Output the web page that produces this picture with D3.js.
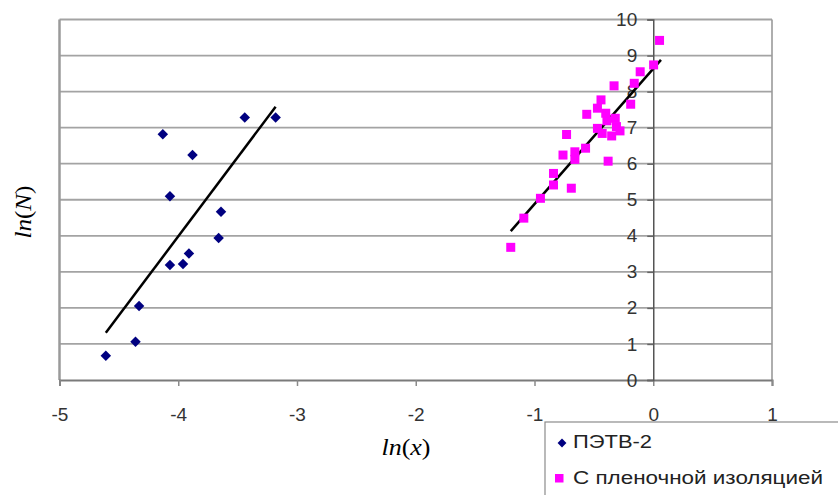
<!DOCTYPE html>
<html lang="en">
<head>
<meta charset="UTF-8">
<title>ln(N) vs ln(x)</title>
<script src="https://d3js.org/d3.v7.min.js"></script>
<style>
  body { margin: 0; background: #fff; }
  svg text { font-family: Arial, "Liberation Sans", sans-serif; }
</style>
</head>
<body>
<svg id="chart" width="838" height="495"></svg>
<script>
// ПЭТВ-2 (blue diamonds)
var petvX = [-3.44, -3.18, -4.13, -3.88, -4.07, -3.64, -3.66, -3.91, -4.07, -3.96, -4.33, -4.36, -4.61];
var petvY = [7.28, 7.28, 6.82, 6.24, 5.10, 4.67, 3.94, 3.51, 3.19, 3.22, 2.05, 1.06, 0.67];

// С пленочной изоляцией (magenta squares)
var filmX = [0.053, 0.003, -0.11, -0.16, -0.33, -0.19, -0.44, -0.47, -0.56, -0.40, -0.39, -0.32, -0.31, -0.28, -0.47,
             -0.43, -0.35, -0.73, -0.57, -0.66, -0.76, -0.66, -0.38, -0.84, -0.84, -0.69, -0.95, -1.09, -1.20];
var filmY = [9.42, 8.74, 8.55, 8.23, 8.16, 7.65, 7.77, 7.54, 7.37, 7.40, 7.19, 7.26, 7.03, 6.91, 6.98,
             6.84, 6.77, 6.81, 6.43, 6.33, 6.24, 6.12, 6.07, 5.73, 5.41, 5.32, 5.04, 4.49, 3.68];

// trend lines (end points)
var petvTrend = [[-4.61, 1.31], [-3.18, 7.58]];
var filmTrend = [[-1.20, 4.13], [0.065, 8.88]];

var xTicks = [-5, -4, -3, -2, -1, 0, 1];
var yTicks = [0, 1, 2, 3, 4, 5, 6, 7, 8, 9, 10];
var seriesNames = ["ПЭТВ-2", "С пленочной изоляцией"];

var svg = d3.select("#chart");

var x = d3.scaleLinear().domain([-5, 1]).range([59.5, 772]);
var y = d3.scaleLinear().domain([0, 10]).range([380, 19.5]);

// horizontal gridlines
svg.append("g")
  .selectAll("line")
  .data(yTicks.slice(1))
  .enter().append("line")
  .attr("x1", x(-5)).attr("x2", x(1))
  .attr("y1", function(d) { return y(d); })
  .attr("y2", function(d) { return y(d); })
  .attr("stroke", "#a3a3a3")
  .attr("stroke-width", 1.8);

// plot border (left, right)
svg.append("line").attr("x1", x(-5)).attr("x2", x(-5)).attr("y1", y(10)).attr("y2", y(0))
  .attr("stroke", "#9a9a9a").attr("stroke-width", 2.5);
svg.append("line").attr("x1", x(1)).attr("x2", x(1)).attr("y1", y(10)).attr("y2", y(0))
  .attr("stroke", "#9a9a9a").attr("stroke-width", 1.6);

// x axis at y = 0
var xAxis = d3.axisBottom(x).tickValues(xTicks).tickSize(6).tickFormat(d3.format("d"));
var gx = svg.append("g").attr("transform", "translate(0," + y(0) + ")").call(xAxis);
gx.select(".domain").attr("stroke", "#7a7a7a").attr("stroke-width", 2);
gx.selectAll(".tick line").attr("stroke", "#8a8a8a").attr("stroke-width", 1.5);
gx.selectAll(".tick text")
  .attr("dy", null).attr("y", 41)
  .attr("font-size", 19).attr("fill", "#333")
  .text(function(d) { return d < 0 ? "-" + Math.abs(d) : d; });

// y axis at x = 0
var yAxis = d3.axisLeft(y).tickValues(yTicks).tickSize(6).tickFormat(d3.format("d"));
var gy = svg.append("g").attr("transform", "translate(" + x(0) + ",0)").call(yAxis);
gy.select(".domain").attr("stroke", "#555").attr("stroke-width", 1.5);
gy.selectAll(".tick line").attr("stroke", "#666").attr("stroke-width", 1.5);
gy.selectAll(".tick text")
  .attr("x", -16)
  .attr("font-size", 19).attr("fill", "#333");

// trend lines
var line = d3.line().x(function(d) { return x(d[0]); }).y(function(d) { return y(d[1]); });
[petvTrend, filmTrend].forEach(function(t) {
  svg.append("path").attr("d", line(t))
    .attr("fill", "none").attr("stroke", "#000").attr("stroke-width", 2.5);
});

// film points (squares)
svg.append("g")
  .selectAll("rect")
  .data(filmX.map(function(v, i) { return [v, filmY[i]]; }))
  .enter().append("rect")
  .attr("x", function(d) { return x(d[0]) - 4.5; })
  .attr("y", function(d) { return y(d[1]) - 4.5; })
  .attr("width", 9).attr("height", 9)
  .attr("fill", "#ff00ff");

// petv points (diamonds)
var diamond = d3.symbol().type(d3.symbolDiamond2).size(70);
svg.append("g")
  .selectAll("path")
  .data(petvX.map(function(v, i) { return [v, petvY[i]]; }))
  .enter().append("path")
  .attr("d", diamond)
  .attr("transform", function(d) { return "translate(" + x(d[0]) + "," + y(d[1]) + ")"; })
  .attr("fill", "#000080");

// axis titles
svg.append("text")
  .attr("transform", "translate(31,212) rotate(-90)")
  .attr("text-anchor", "middle")
  .attr("textLength", 53).attr("lengthAdjust", "spacingAndGlyphs")
  .style("font-family", "'Liberation Serif', 'Times New Roman', serif")
  .attr("font-size", 24)
  .html('<tspan font-style="italic">ln</tspan>(<tspan font-style="italic">N</tspan>)');

svg.append("text")
  .attr("x", 406).attr("y", 455)
  .attr("text-anchor", "middle")
  .attr("textLength", 49).attr("lengthAdjust", "spacingAndGlyphs")
  .style("font-family", "'Liberation Serif', 'Times New Roman', serif")
  .attr("font-size", 23)
  .html('<tspan font-style="italic">ln</tspan>(<tspan font-style="italic">x</tspan>)');

// legend
var lg = svg.append("g");
lg.append("rect")
  .attr("x", 545).attr("y", 422).attr("width", 300).attr("height", 80)
  .attr("fill", "#fff").attr("stroke", "#8c8c8c").attr("stroke-width", 1.2);
lg.append("path")
  .attr("d", d3.symbol().type(d3.symbolDiamond2).size(50))
  .attr("transform", "translate(562,443)")
  .attr("fill", "#000080");
lg.append("rect")
  .attr("x", 555).attr("y", 474).attr("width", 8.5).attr("height", 8.5)
  .attr("fill", "#ff00ff");
var legendWidths = [79, 250];
lg.selectAll("text.lbl")
  .data(seriesNames)
  .enter().append("text")
  .attr("class", "lbl")
  .attr("x", 573)
  .attr("y", function(d, i) { return 448 + i * 36; })
  .attr("font-size", 18).attr("fill", "#222")
  .attr("textLength", function(d, i) { return legendWidths[i]; })
  .attr("lengthAdjust", "spacingAndGlyphs")
  .text(function(d) { return d; });
</script>
</body>
</html>
